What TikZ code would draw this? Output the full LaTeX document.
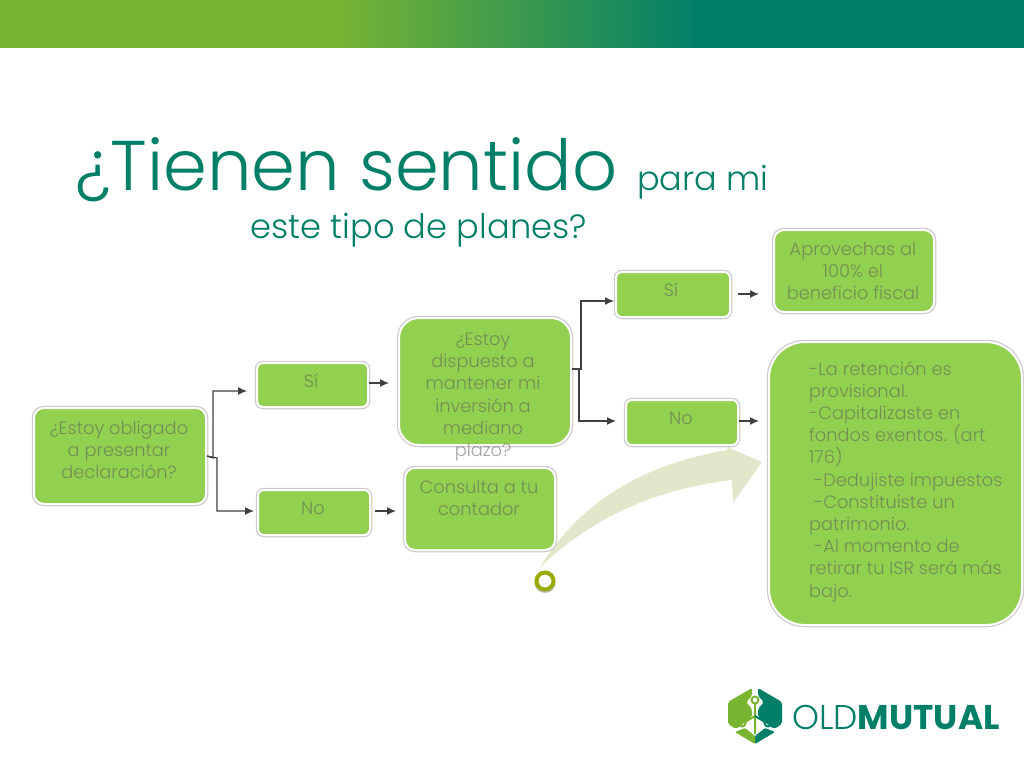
\documentclass[tikz,border=0pt]{standalone}
\usepackage{fontspec}
\setmainfont{Poppins}[UprightFont=* Light,BoldFont=* Bold]
\usetikzlibrary{arrows.meta}
\definecolor{boxgreen}{HTML}{92D050}
\definecolor{titleteal}{HTML}{007F68}
\definecolor{leafgreen}{HTML}{7AB532}
\definecolor{palearrow}{HTML}{E3E6CB}
\definecolor{ringolive}{HTML}{9BAA00}
\definecolor{linegray}{HTML}{404040}
\tikzset{
  box/.style={draw=white,line width=2pt,fill=boxgreen,rounded corners=#1,
    preaction={draw=black!20,line width=4.5pt},anchor=north west,inner sep=0pt},
  box/.default=10pt,
  boxtxt/.style={text=black!65,text opacity=0.55,align=center,inner sep=0pt,font=\fontsize{17.8}{22.2}\selectfont},
  titletxt/.style={text=titleteal,anchor=base west,inner sep=0pt},
  flow/.style={draw=linegray,line width=1.2pt,-{Latex[length=9pt,width=8pt]}}
}
\begin{document}
\begin{tikzpicture}[x=1pt,y=-1pt]
\useasboundingbox (0,0) rectangle (1024,768);
\fill[leafgreen] (0,0) rectangle (330,48);
\shade[left color=leafgreen,right color=titleteal] (330,0) rectangle (700,48);
\fill[titleteal] (700,0) rectangle (1024,48);
% title
\node (title) [titletxt] at (75,190) {\fontsize{70.4}{74}\selectfont ¿Tienen sentido};
\node (titlea) [titletxt] at (637,190) {\fontsize{33.5}{36}\selectfont para mi};
\node (titleb) [titletxt] at (250,238) {\fontsize{33.7}{36}\selectfont este tipo de planes?};
% big arrow
\fill[palearrow] (540,567) .. controls (580,503) and (640,465) .. (727,450) -- (727,447) -- (762,462) -- (733,503) -- (732,480) .. controls (650,490) and (590,520) .. (540,567) -- cycle;
% boxes
\node (obligado) [box,minimum width=172pt,minimum height=96pt] at (33,407) {};
\node (obligadotxt) [boxtxt] at (119,450) {¿Estoy obligado\\a presentar\\declaración?};
\node (sia) [box=6pt,minimum width=111pt,minimum height=44pt] at (256,362) {};
\node (siatxt) [boxtxt] at (311,381) {Sí};
\node (noa) [box=6pt,minimum width=112pt,minimum height=45pt] at (257,489) {};
\node (noatxt) [boxtxt] at (313,508) {No};
\node (dispuesto) [box=20pt,minimum width=172pt,minimum height=127pt] at (398,317) {};
\node (dispuestotxt) [boxtxt] at (483,397) {¿Estoy\\dispuesto a\\mantener mi\\inversión a\\mediano\\plazo?};
\node (consulta) [box,minimum width=150pt,minimum height=82pt] at (404,467) {};
\node (consultatxt) [boxtxt] at (479,498) {Consulta a tu\\contador};
\node (sib) [box=6pt,minimum width=114pt,minimum height=45pt] at (615,271) {};
\node (sibtxt) [boxtxt] at (671,290) {Sí};
\node (nob) [box=6pt,minimum width=112pt,minimum height=45pt] at (625,399) {};
\node (nobtxt) [boxtxt] at (681,418) {No};
\node (aprovechas) [box,minimum width=160pt,minimum height=82pt] at (773,229) {};
\node (aprovechastxt) [boxtxt] at (853,271) {Aprovechas al\\100\% el\\beneficio fiscal};
\node (retencion) [box=36pt,minimum width=253pt,minimum height=283pt] at (768,341) {};
\node (retenciontxt) [boxtxt,align=left,anchor=north west] at (809,361) {-La retención es\\provisional.\\-Capitalizaste en\\fondos exentos. (art\\176)\\\ -Dedujiste impuestos\\\ -Constituiste un\\patrimonio.\\\ -Al momento de\\retirar tu ISR será más\\bajo.};
% connectors
\coordinate (forka) at (213,458);
\coordinate (forkb) at (217,458);
\coordinate (forkc) at (581,369);
\coordinate (forkd) at (579,369);
\coordinate (tipa) at (247,391);
\coordinate (tipb) at (254,511);
\coordinate (tipc) at (389,383);
\coordinate (tipd) at (396,511);
\coordinate (tipe) at (614,301);
\coordinate (tipf) at (616,421);
\coordinate (tipg) at (759,294);
\coordinate (tiph) at (759,421);
\draw[flow] (obligado.east) -- (forka) |- (tipa);
\draw[flow] (obligado.east) -- (forkb) |- (tipb);
\draw[flow] (sia.east |- tipc) -- (tipc);
\draw[flow] ([xshift=4pt]noa.east |- tipd) -- (tipd);
\draw[flow] (dispuesto.east |- forkc) -- (forkc) |- (tipe);
\draw[flow] (dispuesto.east |- forkd) -- (forkd) |- (tipf);
\draw[flow] ([xshift=7pt]sib.east |- tipg) -- (tipg);
\draw[flow] (nob.east |- tiph) -- (tiph);
% ring
\node (ring) [circle,draw=ringolive,line width=4pt,fill=white,minimum size=17pt,inner sep=0pt,
  preaction={draw=black!25,line width=4pt,transform canvas={yshift=-1.5pt}}] at (545,581) {};
% logo
\fill[leafgreen,rounded corners=2pt] (752,688) -- (728,702) -- (728,724) -- (736,729) -- (752,717) -- (752,709) -- (746,702) -- (752,696) -- cycle;
\fill[titleteal,rounded corners=2pt] (758,688) -- (782,702) -- (782,724) -- (774,729) -- (758,717) -- (758,709) -- (764,702) -- (758,696) -- cycle;
\fill[leafgreen,rounded corners=1pt] (735,732) -- (755,744) -- (755,736) -- (745,728) -- cycle;
\fill[titleteal,rounded corners=1pt] (775,732) -- (755,744) -- (755,736) -- (765,728) -- cycle;
\draw[leafgreen,line width=2pt] (755,704) -- (755,734) (755,716) -- (745,722) (742,723) circle (3.5pt) (755,700) circle (3.5pt);
\draw[titleteal,line width=2pt] (755,716) -- (765,722) (768,723) circle (3.5pt);
\node (logotxt) [titletxt] at (792,729) {\fontsize{34.3}{37}\selectfont OLD\textbf{MUTUAL}};
\end{tikzpicture}
\end{document}
